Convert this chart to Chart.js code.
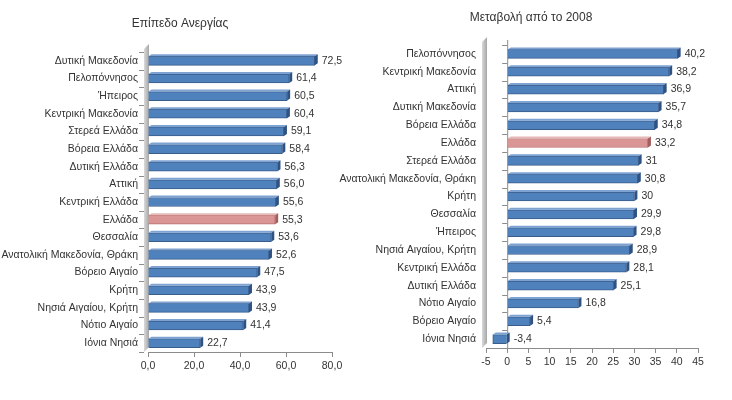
<!DOCTYPE html>
<html lang="el">
<head>
<meta charset="UTF-8">
<title>Επίπεδο Ανεργίας / Μεταβολή από το 2008</title>
<script src="https://cdn.jsdelivr.net/npm/chart.js"></script>
<style>
  body { margin: 0; background: #fff; }
  canvas { position: absolute; top: 0; }
</style>
</head>
<body>
<canvas id="left" width="366" height="400" style="left:0"></canvas>
<canvas id="right" width="396" height="400" style="left:336px"></canvas>
<script>
// αριστερό διάγραμμα
const leftTitle = 'Επίπεδο Ανεργίας';
const leftLabels = ['Δυτική Μακεδονία', 'Πελοπόννησος', 'Ήπειρος', 'Κεντρική Μακεδονία', 'Στερεά Ελλάδα',
  'Βόρεια Ελλάδα', 'Δυτική Ελλάδα', 'Αττική', 'Κεντρική Ελλάδα', 'Ελλάδα', 'Θεσσαλία',
  'Ανατολική Μακεδονία, Θράκη', 'Βόρειο Αιγαίο', 'Κρήτη', 'Νησιά Αιγαίου, Κρήτη', 'Νότιο Αιγαίο', 'Ιόνια Νησιά'];
const leftValues = [72.5, 61.4, 60.5, 60.4, 59.1, 58.4, 56.3, 56.0, 55.6, 55.3, 53.6, 52.6, 47.5, 43.9, 43.9, 41.4, 22.7];

// δεξί διάγραμμα
const rightTitle = 'Μεταβολή από το 2008';
const rightLabels = ['Πελοπόννησος', 'Κεντρική Μακεδονία', 'Αττική', 'Δυτική Μακεδονία', 'Βόρεια Ελλάδα',
  'Ελλάδα', 'Στερεά Ελλάδα', 'Ανατολική Μακεδονία, Θράκη', 'Κρήτη', 'Θεσσαλία', 'Ήπειρος',
  'Νησιά Αιγαίου, Κρήτη', 'Κεντρική Ελλάδα', 'Δυτική Ελλάδα', 'Νότιο Αιγαίο', 'Βόρειο Αιγαίο', 'Ιόνια Νησιά'];
const rightValues = [40.2, 38.2, 36.9, 35.7, 34.8, 33.2, 31, 30.8, 30, 29.9, 29.8, 28.9, 28.1, 25.1, 16.8, 5.4, -3.4];

const highlight = 'Ελλάδα';
const FONT = 'Liberation Sans';
const TEXT = '#333';

// τίτλος σε σταθερή θέση
const panelTitle = {
  id: 'panelTitle',
  afterDraw(chart, args, opts) {
    const ctx = chart.ctx;
    ctx.save();
    ctx.font = '12px ' + FONT;
    ctx.fillStyle = TEXT;
    ctx.textAlign = 'center';
    ctx.textBaseline = 'middle';
    ctx.fillText(opts.text, opts.x, opts.y);
    ctx.restore();
  }
};

// τοίχος, γραμμή μηδέν και μικρές γραμμές κατηγοριών
const wall = {
  id: 'wall',
  beforeDatasetsDraw(chart) {
    const { ctx, chartArea: a, scales: { x, y } } = chart;
    ctx.save();
    const g = ctx.createLinearGradient(a.left - 4, 0, a.left + 1, 0);
    g.addColorStop(0, '#d9d9d9');
    g.addColorStop(1, '#a6a6a6');
    ctx.fillStyle = g;
    ctx.beginPath();
    ctx.moveTo(a.left - 4, a.top - 3);
    ctx.lineTo(a.left + 1, a.top - 8);
    ctx.lineTo(a.left + 1, a.bottom - 5);
    ctx.lineTo(a.left - 4, a.bottom);
    ctx.closePath();
    ctx.fill();
    const x0 = x.getPixelForValue(0);
    const step = y.getPixelForValue(1) - y.getPixelForValue(0);
    ctx.strokeStyle = '#8c8c8c';
    ctx.lineWidth = 1;
    ctx.beginPath();
    if (x0 > a.left + 2) {
      ctx.moveTo(x0 + 0.5, a.top - 5);
      ctx.lineTo(x0 + 0.5, a.bottom);
    }
    for (let i = 0; i <= y.ticks.length; i++) {
      const yy = Math.round(y.getPixelForValue(0) - step / 2 + i * step) + 0.5;
      const xs = x0 > a.left + 2 ? x0 : a.left - 4;
      ctx.moveTo(xs - 5, yy);
      ctx.lineTo(xs, yy);
    }
    ctx.stroke();
    ctx.restore();
  }
};

// ψευδο-3Δ άκρες και ετικέτες τιμών
const valueLabels = {
  id: 'valueLabels',
  afterDatasetsDraw(chart, args, opts) {
    const ctx = chart.ctx;
    const meta = chart.getDatasetMeta(0);
    const data = chart.data.datasets[0].data;
    const labels = chart.data.labels;
    ctx.save();
    meta.data.forEach((bar, i) => {
      const h = bar.height;
      const top = bar.y - h / 2, bot = bar.y + h / 2;
      const end = Math.max(bar.x, bar.base), start = Math.min(bar.x, bar.base);
      const hi = labels[i] === highlight;
      ctx.fillStyle = hi ? '#e6b9b8' : '#7ea2d2';
      ctx.beginPath();
      ctx.moveTo(start, top); ctx.lineTo(start + 3, top - 2);
      ctx.lineTo(end + 3, top - 2); ctx.lineTo(end, top);
      ctx.closePath(); ctx.fill();
      ctx.fillStyle = hi ? '#a35f5d' : '#2f5283';
      ctx.beginPath();
      ctx.moveTo(end, top); ctx.lineTo(end + 3, top - 2);
      ctx.lineTo(end + 3, bot - 2); ctx.lineTo(end, bot);
      ctx.closePath(); ctx.fill();
    });
    ctx.font = '10.5px ' + FONT;
    ctx.fillStyle = TEXT;
    ctx.textAlign = 'left';
    ctx.textBaseline = 'middle';
    meta.data.forEach((bar, i) => {
      const end = Math.max(bar.x, bar.base);
      ctx.fillText(opts.format(data[i]), end + 7, bar.y);
    });
    ctx.restore();
  }
};

function makeChart(id, title, titleX, labels, values, xOpts, area, fmt) {
  return new Chart(document.getElementById(id), {
    type: 'bar',
    data: {
      labels: labels,
      datasets: [{
        data: values,
        backgroundColor: labels.map(l => l === highlight ? '#d99694' : '#4f81bd'),
        borderColor: labels.map(l => l === highlight ? '#b76e6d' : '#385d8a'),
        borderWidth: 1,
        barThickness: 9
      }]
    },
    options: {
      indexAxis: 'y',
      responsive: false,
      animation: false,
      layout: { padding: { top: area.top, right: area.right, left: 0, bottom: 0 } },
      scales: {
        x: Object.assign({
          grid: { drawOnChartArea: false, drawTicks: true, tickLength: 5, color: '#8c8c8c' },
          border: { color: '#8c8c8c' },
          afterFit: s => { s.height = area.xh; }
        }, xOpts),
        y: {
          grid: { display: false },
          border: { display: false },
          ticks: { padding: 2, color: TEXT, font: { family: FONT, size: 10.5 }, autoSkip: false },
          afterFit: s => { s.width = area.left; }
        }
      },
      plugins: {
        legend: { display: false },
        tooltip: { enabled: false },
        panelTitle: { text: title, x: titleX, y: area.titleY },
        valueLabels: { format: fmt }
      }
    },
    plugins: [wall, valueLabels, panelTitle]
  });
}

makeChart('left', leftTitle, 180, leftLabels, leftValues, {
  min: 0, max: 80,
  ticks: { stepSize: 20, padding: 3, color: TEXT, font: { family: FONT, size: 10.5 },
    callback: v => v.toFixed(1).replace('.', ',') }
}, { top: 52, right: 34, left: 148, xh: 48, titleY: 24 }, v => v.toFixed(1).replace('.', ','));

makeChart('right', rightTitle, 195, rightLabels, rightValues, {
  min: -5, max: 45,
  ticks: { stepSize: 5, padding: 3, color: TEXT, font: { family: FONT, size: 10.5 } }
}, { top: 45, right: 34, left: 150, xh: 52, titleY: 18 }, v => String(v).replace('.', ','));
</script>
</body>
</html>
